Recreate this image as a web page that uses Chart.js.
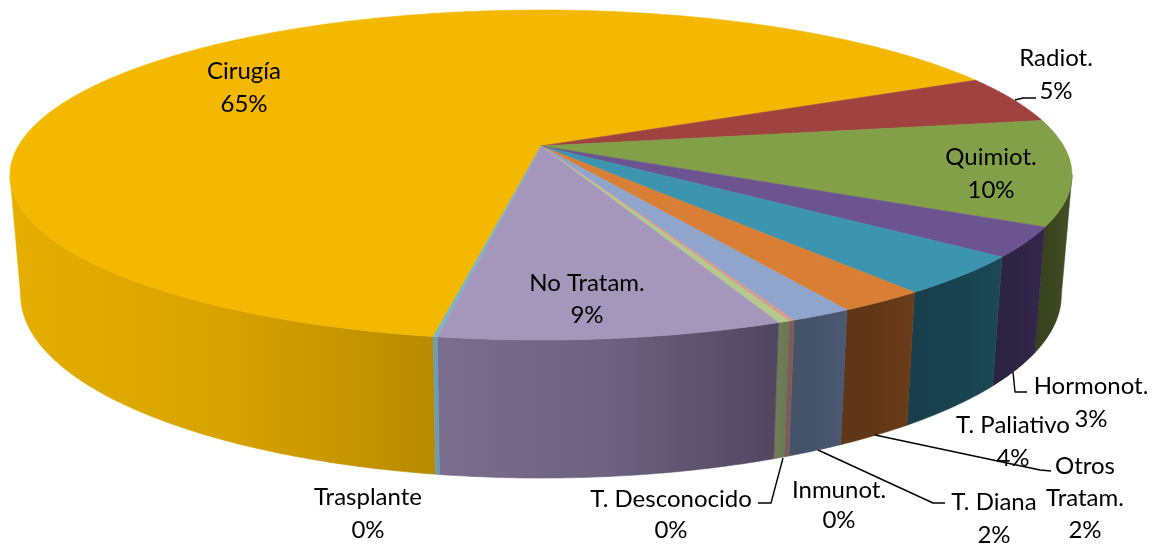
<!DOCTYPE html>
<html><head><meta charset="utf-8">
<style>html,body{margin:0;padding:0;background:#fff}canvas{display:block}</style>
<script src="https://cdn.jsdelivr.net/npm/chart.js@4"></script>
</head><body>
<canvas id="c" width="1161" height="545"></canvas>
<script>
const categories = ["Cirugía","Radiot.","Quimiot.","Hormonot.","T. Paliativo","Otros Tratam.","T. Diana","Inmunot.","T. Desconocido","No Tratam.","Trasplante"];
const shares = [65.1,4.7,10.35,2.9,3.85,2.3,1.6,0.15,0.3,8.85,0.1];
const shareLabels = ["65%","5%","10%","3%","4%","2%","2%","0%","0%","9%","0%"];
const topColors = ["#F4B800","#A04240","#82A048","#6C5490","#3D94AE","#D97F35","#8FA5CC","#D59A90","#B5C98F","#A497BB","#7CB5C8"];
const wallLeft  = ["#E6AE00","#6A2A28","#37411E","#2C2240","#183E4A","#5E3517","#445268","#7C5C58","#6E7E58","#7A6E8C","#6C9CB2"];
const wallRight = ["#B88A00","#6A2A28","#425026","#33284C","#1C4957","#6A3D1A","#4A5A72","#7C5C58","#667650","#504660","#6C9CB2"];
const firstSliceDeg = 189.8;

// Layout of the tilted disc (perspective projection of the pie's own angles)
const view = {cx:541, k:0.1758, top:{a:522.7,b:134.2,c:146}, bottom:{a:512.2,b:131,c:263}};
const fontPx = 24;
const labelLayout = [
  {lines:["Cirugía","65%"],x:244,y:[71,104]},
  {lines:["Radiot.","5%"],x:1056,y:[58,91]},
  {lines:["Quimiot.","10%"],x:991,y:[157,190]},
  {lines:["Hormonot.","3%"],x:1091,y:[386,419]},
  {lines:["T. Paliativo","4%"],x:1013,y:[425,458]},
  {lines:["Otros","Tratam.","2%"],x:1085,y:[466,498,530]},
  {lines:["T. Diana","2%"],x:994,y:[502,535]},
  {lines:["Inmunot.","0%"],x:839,y:[490,520]},
  {lines:["T. Desconocido","0%"],x:671,y:[499,530]},
  {lines:["No Tratam.","9%"],x:587,y:[283,315]},
  {lines:["Trasplante","0%"],x:368,y:[497,530]}
];
const leaders = [
  [[1015,100],[1023,98],[1036,98]],
  [[1013,372],[1015,392],[1027,392]],
  [[875,435],[1040,470],[1051,471]],
  [[818,450],[933,503],[945,503]],
  [[783,458],[771,503],[758,503]]
];

function project(face, ang){
  const X=Math.cos(ang), Y=Math.sin(ang), w=1-view.k*Y;
  return [view.cx+face.a*X/w, (face.b*Y+face.c)/w];
}
function arcPoints(face,a0,a1){
  const n=Math.max(1,Math.ceil(Math.abs(a1-a0)/(Math.PI/360))), pts=[];
  for(let i=0;i<=n;i++) pts.push(project(face,a0+(a1-a0)*i/n));
  return pts;
}
function fillPoly(ctx,pts,fill){
  ctx.beginPath();
  pts.forEach((p,i)=>i?ctx.lineTo(p[0],p[1]):ctx.moveTo(p[0],p[1]));
  ctx.closePath();
  ctx.fillStyle=fill; ctx.strokeStyle=fill; ctx.lineWidth=0.6;
  ctx.fill(); ctx.stroke();
}
function mix(a,b,t){
  const p=h=>[1,3,5].map(i=>parseInt(h.substr(i,2),16)), A=p(a), B=p(b);
  return "rgb("+A.map((v,i)=>Math.round(v+(B[i]-v)*t)).join(",")+")";
}
const pie3d = {
  id:'pie3d',
  beforeDatasetDraw(chart,args){
    const ctx=chart.ctx, arcs=chart.getDatasetMeta(args.index).data;
    const minAng=Math.asin(view.k);
    const two=Math.PI*2;
    ctx.save();
    // walls: visible part of every slice, from the library's arc angles
    arcs.forEach((el,i)=>{
      for(let shift=-two;shift<=two;shift+=two){
        const s=Math.max(el.startAngle+shift,minAng), e=Math.min(el.endAngle+shift,Math.PI-minAng);
        if(e<=s) continue;
        const t=arcPoints(view.top,s,e), b=arcPoints(view.bottom,s,e).reverse();
        const all=t.concat(b), xs=all.map(p=>p[0]);
        const g=ctx.createLinearGradient(Math.min(...xs),0,Math.max(...xs),0);
        g.addColorStop(0,wallLeft[i]);
        g.addColorStop(0.5,mix(wallLeft[i],wallRight[i],0.3));
        g.addColorStop(1,wallRight[i]);
        fillPoly(ctx,all,g);
      }
    });
    // top face
    const apex=[view.cx,view.top.c];
    arcs.forEach((el,i)=>{
      fillPoly(ctx,[apex].concat(arcPoints(view.top,el.startAngle,el.endAngle)),topColors[i]);
    });
    ctx.restore();
    return false;
  },
  afterDraw(chart){
    const ctx=chart.ctx;
    ctx.save();
    ctx.strokeStyle="#000"; ctx.lineWidth=1.4; ctx.lineJoin="round";
    leaders.forEach(l=>{ctx.beginPath();l.forEach((p,i)=>i?ctx.lineTo(p[0],p[1]):ctx.moveTo(p[0],p[1]));ctx.stroke();});
    ctx.fillStyle="#000"; ctx.textAlign="center"; ctx.textBaseline="middle";
    ctx.font=fontPx+"px Lato, Carlito, sans-serif";
    labelLayout.forEach(l=>l.lines.forEach((t,j)=>ctx.fillText(t,l.x,l.y[j])));
    ctx.restore();
  }
};
new Chart(document.getElementById('c'),{
  type:'pie',
  data:{labels:categories,datasets:[{data:shares,backgroundColor:topColors,borderWidth:0}]},
  options:{responsive:false,animation:false,rotation:firstSliceDeg,
    plugins:{legend:{display:false},tooltip:{enabled:false}}},
  plugins:[pie3d]
});
</script>
</body></html>
